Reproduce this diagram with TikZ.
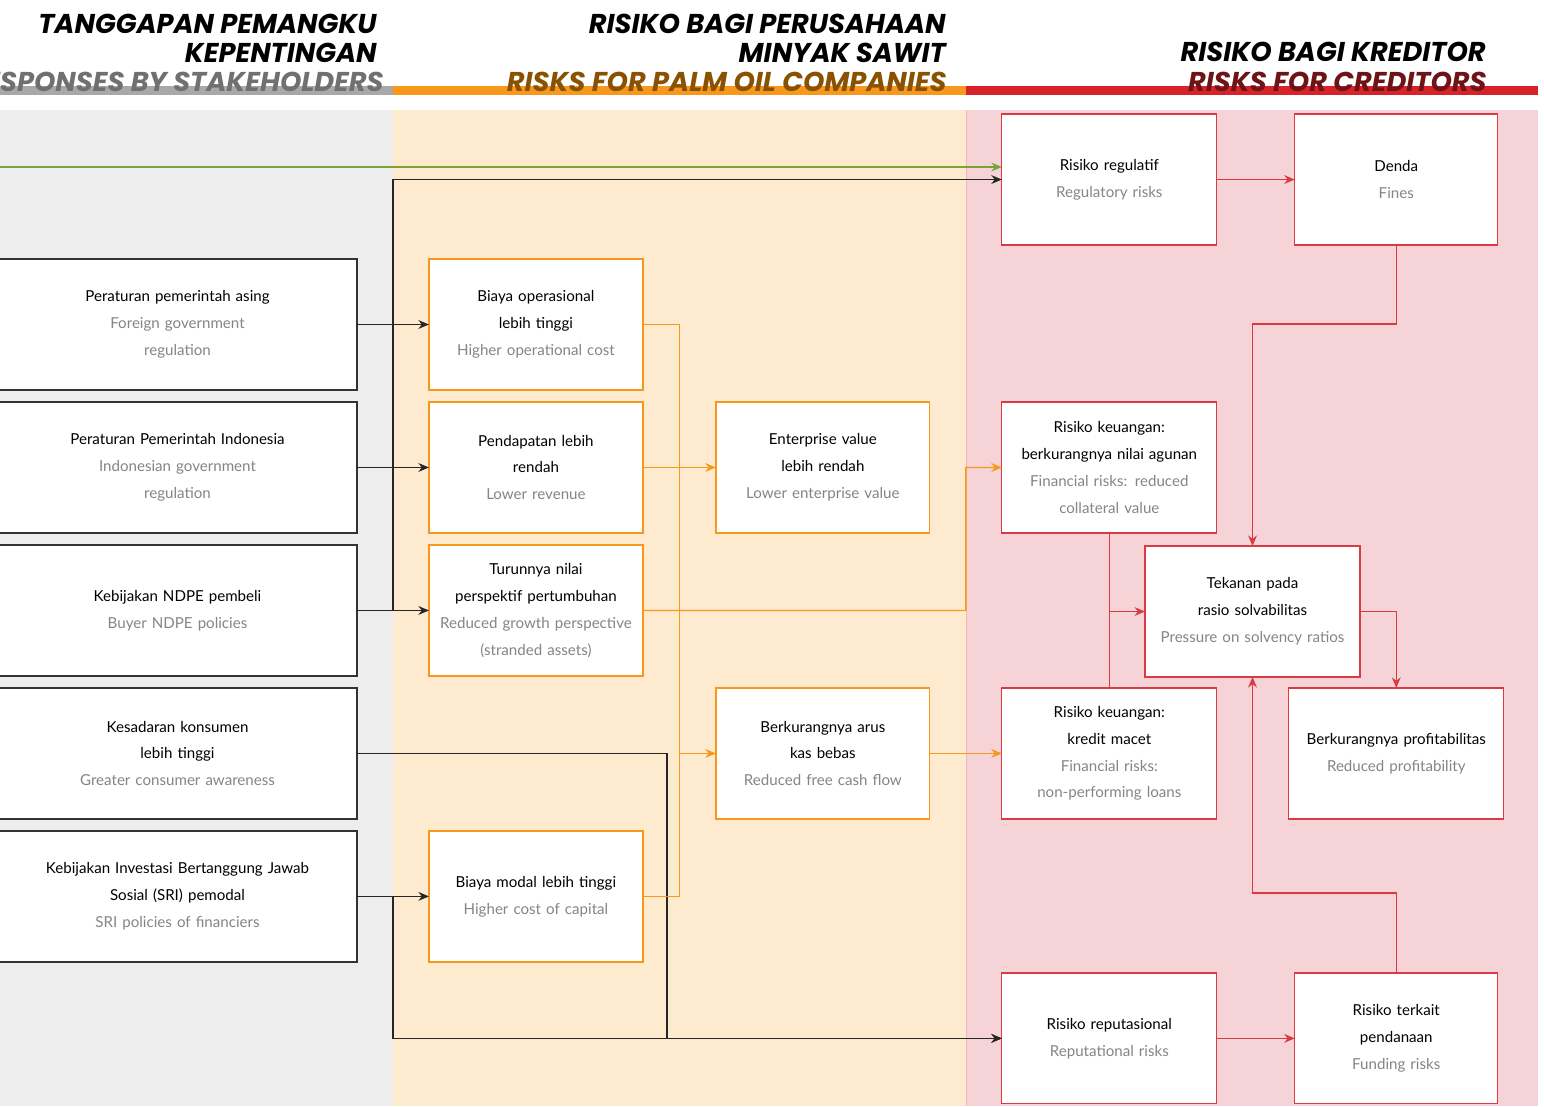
\documentclass[tikz,border=0pt]{standalone}
\usepackage{fontspec}
\setmainfont{Lato}
\newfontfamily\titlefont{Poppins}
\definecolor{bandgray}{HTML}{EDEDED}
\definecolor{bargray}{HTML}{A8A8A8}
\definecolor{titlegray}{HTML}{707070}
\definecolor{bandorange}{HTML}{FEEACF}
\definecolor{palmorange}{HTML}{F7981D}
\definecolor{titlebrown}{HTML}{8A5200}
\definecolor{bandpink}{HTML}{F5D3D6}
\definecolor{pinkedge}{HTML}{F3B7AE}
\definecolor{credred}{HTML}{D7222A}
\definecolor{boxred}{HTML}{DC3A42}
\definecolor{titlered}{HTML}{6E1417}
\definecolor{linegreen}{HTML}{7BA23A}
\definecolor{subgray}{HTML}{858585}
\usetikzlibrary{arrows.meta, positioning, calc}
\newcommand{\en}{\color{subgray}}

\begin{document}
\begin{tikzpicture}[
      x=0.02cm, y=-0.02cm,
      font=\fontsize{8.6}{15.3}\selectfont,
      leftbox/.style={rectangle, draw=black!80, fill=white, line width=0.7pt,
                      minimum width=7.18cm, minimum height=2.62cm, outer sep=0pt,
                      text width=6.9cm, align=center, inner sep=0pt},
      midbox/.style={rectangle, draw=palmorange, fill=white, line width=0.7pt,
                     minimum width=4.28cm, minimum height=2.62cm, outer sep=0pt,
                     text width=4.2cm, align=center, inner sep=0pt},
      riskbox/.style={rectangle, draw=boxred, fill=white, line width=0.7pt,
                      minimum width=4.3cm, minimum height=2.62cm, outer sep=0pt,
                      text width=4.2cm, align=center, inner sep=0pt},
      smallrisk/.style={riskbox, minimum width=4.06cm, text width=4cm},
      title/.style={font=\titlefont\bfseries\itshape\fontsize{15.5}{15.5}\selectfont,
                    anchor=base east, inner sep=0pt},
      arr/.style={-{Stealth[length=6pt, width=5pt]}, line width=0.8pt, black!85},
      oarr/.style={arr, palmorange},
      oline/.style={line width=0.8pt, palmorange},
      rarr/.style={arr, boxred},
      rline/.style={line width=0.8pt, boxred},
      garr/.style={arr, linegreen}
    ]
      \useasboundingbox (0,0) rectangle (1544,1106);

      % Column bands and header bars
      \fill[bandgray] (0,110) rectangle (393,1106);
      \fill[bandorange] (393,110) rectangle (966,1106);
      \fill[bandpink] (966,110) rectangle (1538,1106);
      \draw[pinkedge, line width=0.5pt] (966,110) -- (966,1106);
      \fill[bargray] (0,86) rectangle (393,95);
      \fill[palmorange] (393,86) rectangle (966,95);
      \fill[credred] (966,86) rectangle (1538,95);

      % Column titles
      \node[title] (t1a) at (377,33) {TANGGAPAN PEMANGKU};
      \node[title] (t1b) at (377,62) {KEPENTINGAN};
      \node[title, text=titlegray] (t1c) at (384,91) {RESPONSES BY STAKEHOLDERS};
      \node[title] (t2a) at (946,33) {RISIKO BAGI PERUSAHAAN};
      \node[title] (t2b) at (946,62) {MINYAK SAWIT};
      \node[title, text=titlebrown] (t2c) at (947,91) {RISKS FOR PALM OIL COMPANIES};
      \node[title] (t3a) at (1486,61) {RISIKO BAGI KREDITOR};
      \node[title, text=titlered] (t3b) at (1487,91) {RISKS FOR CREDITORS};

      % Left column — stakeholder responses
      \node[leftbox] (L1) at (177.5,324.5) {Peraturan pemerintah asing\\\en Foreign government\\regulation};
      \node[leftbox, below=0.24cm of L1] (L2) {Peraturan Pemerintah Indonesia\\\en Indonesian government\\regulation};
      \node[leftbox, below=0.24cm of L2] (L3) {Kebijakan NDPE pembeli\\\en Buyer NDPE policies};
      \node[leftbox, below=0.24cm of L3] (L4) {Kesadaran konsumen\\lebih tinggi\\\en Greater consumer awareness};
      \node[leftbox, below=0.24cm of L4] (L5) {Kebijakan Investasi Bertanggung Jawab\\Sosial (SRI) pemodal\\\en SRI policies of financiers};

      % Middle column — company risks
      \node[midbox, right=1.44cm of L1] (M1) {Biaya operasional\\lebih tinggi\\\en Higher operational cost};
      \node[midbox, right=1.44cm of L2] (M2) {Pendapatan lebih\\rendah\\\en Lower revenue};
      \node[midbox, right=1.44cm of L3] (M3) {Turunnya nilai\\perspektif pertumbuhan\\\en Reduced growth perspective\\(stranded assets)};
      \node[midbox, right=1.44cm of L5] (M5) {Biaya modal lebih tinggi\\\en Higher cost of capital};
      \node[midbox, right=1.46cm of M2] (E1) {Enterprise value\\lebih rendah\\\en Lower enterprise value};
      \node[midbox, below=3.1cm of E1] (E2) {Berkurangnya arus\\kas bebas\\\en Reduced free cash flow};

      % Right column — creditor risks
      \node[riskbox, right=1.44cm of E1] (R3) {Risiko keuangan:\\berkurangnya nilai agunan\\\en Financial risks: reduced\\collateral value};
      \node[riskbox, above=3.14cm of R3] (R1) {Risiko regulatif\\\en Regulatory risks};
      \node[smallrisk, right=1.56cm of R1] (R2) {Denda\\\en Fines};
      \node[riskbox, right=1.44cm of E2] (R5) {Risiko keuangan:\\kredit macet\\\en Financial risks:\\non-performing loans};
      \node[riskbox] (R4) at (1252.5,611.5) {Tekanan pada\\rasio solvabilitas\\\en Pressure on solvency ratios};
      \node[riskbox, right=1.44cm of R5] (R6) {Berkurangnya profitabilitas\\\en Reduced profitability};
      \node[riskbox, below=3.08cm of R5] (R7) {Risiko reputasional\\\en Reputational risks};
      \node[smallrisk, right=1.56cm of R7] (R8) {Risiko terkait\\pendanaan\\\en Funding risks};

      % Junctions
      \coordinate (gstart) at (-5,167);
      \coordinate (trunk) at ($(L3.east)!0.5!(M3.west)$);
      \coordinate (trunkb) at ($(L5.east)!0.5!(M5.west)$);
      \coordinate (oj) at ($(M5.east)!0.5!(M5.east -| E2.west)$);
      \coordinate (rj) at ($(E1.east)!0.5!(R3.west)$);

      % Arrows — stakeholders
      \draw[garr] (gstart) -- (gstart -| R1.west);
      \draw[arr] (L1) -- (M1);
      \draw[arr] (L2) -- (M2);
      \draw[arr] (L3) -- (M3);
      \draw[arr] (L5) -- (M5);
      \draw[arr] (trunk) |- (R1.west);
      \draw[arr] (trunkb) |- (R7.west);
      \draw[arr] (L4.east) -| ($(M5.east |- R7.west)+(24,0)$) -- (R7.west);

      % Arrows — companies
      \draw[oline] (M1.east) -| (oj) -- (M5.east);
      \draw[oarr] (oj |- E2.west) -- (E2.west);
      \draw[oarr] (M2) -- (E1);
      \draw[oarr] (M3.east) -| (rj) -- (R3.west);
      \draw[oarr] (E2) -- (R5);

      % Arrows — creditors
      \draw[rarr] (R1) -- (R2);
      \draw[rarr] (R2.south) -- ++(0,79) -| (R4.north);
      \draw[rline] (R3.south) -- (R5.north);
      \draw[rarr] (R3.south |- R4.west) -- (R4.west);
      \draw[rarr] (R4.east) -| (R6.north);
      \draw[rarr] (R8.north) -- ++(0,-80) -| (R4.south);
      \draw[rarr] (R7) -- (R8);

    \end{tikzpicture}
\end{document}
